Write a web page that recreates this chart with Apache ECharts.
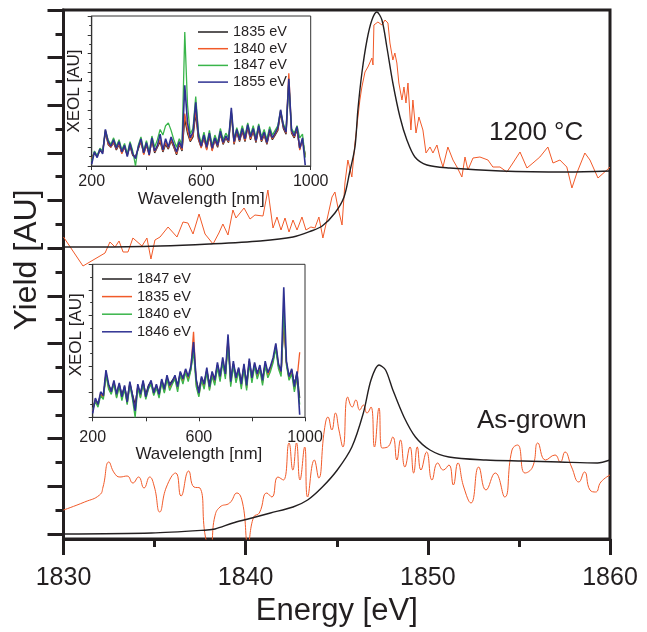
<!DOCTYPE html>
<html>
<head>
<meta charset="utf-8">
<title>Yield vs Energy</title>
<script src="https://cdn.jsdelivr.net/npm/echarts@6/dist/echarts.min.js"></script>
<style>
  html, body { margin: 0; padding: 0; background: #fff; }
  #chart { width: 647px; height: 632px; }
</style>
</head>
<body>
<div id="chart"></div>
<script>
const FONT = '"Liberation Sans", Arial, sans-serif';
const INK = '#231f20';
const ORANGE = '#f15a29';
const GREEN = '#39b54a';
const BLUE = '#2e3192';

// main panel: [energy eV, yield AU]
const hotFit = [[1830,287],[1832,287],[1835.3,288],[1838,290],[1840.8,293],[1842.6,297],[1843.6,303],[1844.2,308],[1844.9,321],[1845.4,337],[1845.7,361],[1846.0,387],[1846.16,424],[1846.38,461],[1846.66,494],[1846.93,514],[1847.2,522],[1847.48,514],[1847.75,487],[1848.08,451],[1848.47,417],[1848.85,394],[1849.29,377],[1849.95,369],[1851.2,366],[1854,363],[1857.6,362],[1860,363]];

const hotData = [[1830.0,297],[1831.07,268],[1832.28,281],[1832.55,292],[1832.83,287],[1833.05,293],[1833.27,282],[1833.54,282],[1833.81,296],[1834.31,288],[1834.58,296],[1834.80,275],[1835.02,294],[1835.30,297],[1835.74,307],[1836.23,297],[1836.56,312],[1836.83,311],[1837.11,300],[1837.44,320],[1837.77,300],[1838.21,290],[1838.53,301],[1838.75,310],[1839.03,299],[1839.30,324],[1839.47,316],[1839.91,326],[1840.24,315],[1840.51,319],[1840.95,318],[1841.22,344],[1841.50,306],[1841.72,317],[1841.94,304],[1842.16,316],[1842.38,302],[1842.60,314],[1842.82,304],[1843.09,317],[1843.31,304],[1843.58,307],[1843.80,306],[1844.02,317],[1844.24,296],[1844.46,314],[1844.74,337],[1844.90,342],[1845.07,326],[1845.29,309],[1845.45,351],[1845.61,374],[1845.83,357],[1846.00,391],[1846.27,434],[1846.38,447],[1846.55,462],[1846.71,467],[1846.93,476],[1846.99,469],[1847.04,509],[1847.26,512],[1847.48,509],[1847.65,514],[1847.81,511],[1847.92,491],[1848.08,474],[1848.19,481],[1848.30,471],[1848.41,451],[1848.58,434],[1848.69,447],[1848.80,431],[1848.91,451],[1849.07,404],[1849.18,434],[1849.35,401],[1849.51,417],[1849.73,404],[1849.90,381],[1850.12,387],[1850.28,381],[1850.50,389],[1850.66,377],[1850.83,367],[1851.10,387],[1851.38,374],[1851.60,367],[1851.87,357],[1852.04,377],[1852.20,364],[1852.48,376],[1852.86,377],[1853.30,374],[1853.57,367],[1853.96,367],[1854.34,362],[1854.67,371],[1855.06,382],[1855.44,366],[1855.77,371],[1856.15,377],[1856.59,387],[1856.87,371],[1857.25,374],[1857.63,367],[1857.91,346],[1858.18,361],[1858.62,381],[1858.90,374],[1859.34,356],[1859.83,364],[1860,367]];

const asFit = [[1830,0],[1834.83,1],[1837.88,4],[1838.32,5],[1839.30,11],[1840.13,15],[1841.36,21],[1842.6,27],[1843.40,34],[1844.21,47],[1845.03,64],[1845.83,87],[1846.46,121],[1846.88,154],[1847.32,169],[1847.68,164],[1848.08,144],[1848.69,117],[1849.32,97],[1850.12,84],[1851.16,77],[1853.19,74],[1855.22,73],[1857.25,72],[1859.31,71],[1860,74]];

const asData = [[1830.0,24],[1831.16,32],[1831.98,39],[1832.17,47],[1832.49,72],[1832.79,61],[1833.10,57],[1833.49,58],[1833.81,51],[1834.12,57],[1834.42,46],[1834.73,57],[1834.99,47],[1835.28,22],[1835.65,47],[1836.16,61],[1836.45,38],[1836.87,63],[1837.16,47],[1837.49,46],[1837.79,-3],[1838.06,-13],[1838.30,17],[1838.59,27],[1839.12,31],[1839.52,41],[1839.83,31],[1840.13,-9],[1840.44,17],[1840.75,21],[1841.16,41],[1841.44,37],[1841.77,57],[1842.07,54],[1842.38,91],[1842.59,64],[1842.79,91],[1842.98,54],[1843.24,87],[1843.40,37],[1843.77,74],[1844.01,56],[1844.32,104],[1844.52,117],[1844.73,104],[1844.93,121],[1845.12,104],[1845.34,87],[1845.60,137],[1845.85,127],[1846.05,134],[1846.26,124],[1846.46,129],[1846.66,121],[1846.88,127],[1847.07,87],[1847.32,126],[1847.48,86],[1847.79,87],[1848.08,97],[1848.30,74],[1848.50,94],[1848.74,67],[1849.02,87],[1849.22,61],[1849.42,87],[1849.62,64],[1849.93,82],[1850.23,54],[1850.54,71],[1850.85,64],[1851.16,69],[1851.40,49],[1851.65,71],[1851.97,47],[1852.37,31],[1852.79,67],[1853.19,44],[1853.70,61],[1854.22,37],[1854.62,84],[1854.93,89],[1855.33,61],[1855.75,67],[1856.04,91],[1856.46,74],[1856.98,79],[1857.27,72],[1857.53,82],[1857.89,67],[1858.29,52],[1858.60,62],[1858.90,44],[1859.21,42],[1859.50,52],[1860,59]];

// y ticks of the main panel (no labels)
const yMajorTicks = [0, 47.6, 95.3, 142.9, 190.6, 238.2, 285.8, 333.5, 381.1, 428.8, 476.4, 524];
const yMinorTicks = [23.8, 71.5, 119.1, 166.7, 214.4, 262, 309.7, 357.3, 404.9, 452.6, 500.2];

// inset spectra, XEOL vs wavelength [nm]
const wavelengths = [
  200,210,220,230,240,250,260,270,280,290,
  300,310,320,330,340,350,360,370,380,390,
  400,410,420,430,440,450,460,470,480,490,
  500,510,520,530,540,550,560,570,580,590,
  600,610,620,630,640,650,660,670,680,690,
  700,710,720,730,740,750,760,770,780,790,
  800,810,820,830,840,850,860,870,880,890,
  900,910,920,930,940,950,960,970,980];

// 1200 °C inset
const hotNames = ['1835 eV', '1840 eV', '1847 eV', '1855 eV'];
const hot1835 = [
  1.0,1.3,1.1,1.6,1.5,3.6,2.3,2.0,2.5,1.7,
  2.3,1.4,2.0,1.2,2.1,1.1,1.0,1.8,2.6,1.3,
  2.2,1.3,2.7,1.4,2.0,2.6,1.5,2.3,1.8,2.7,
  2.0,1.2,2.3,1.6,5.0,3.5,2.6,3.1,5.6,2.8,
  2.0,3.0,1.8,3.2,1.7,2.8,2.0,3.4,2.3,3.0,
  2.5,5.6,2.3,3.6,2.6,3.7,2.6,4.1,2.8,3.7,
  2.5,4.0,2.6,3.3,2.3,3.6,2.8,3.3,3.8,5.7,
  4.0,3.4,9.0,3.5,3.0,3.9,1.8,2.8,1.2];
const hot1840 = [
  0.8,1.4,1.0,1.7,1.4,3.8,2.4,2.0,2.6,1.8,
  2.4,1.3,2.1,1.1,2.3,1.2,0.9,1.9,2.7,1.2,
  2.3,1.1,2.8,1.5,2.1,2.8,1.6,2.5,1.9,2.8,
  2.1,1.3,2.4,1.7,5.6,3.8,2.7,3.3,6.0,2.9,
  1.9,3.1,1.7,3.3,1.6,2.9,2.1,3.5,2.4,3.1,
  2.6,5.8,2.4,3.7,2.7,3.8,2.7,4.2,2.9,3.8,
  2.6,4.1,2.7,3.4,2.4,3.7,2.9,3.4,3.9,5.9,
  4.2,3.5,9.9,3.6,3.1,4.0,1.7,2.9,1.0];
const hot1847 = [
  0.5,1.6,1.1,1.9,1.6,3.8,2.8,2.3,3.0,2.1,
  2.8,1.7,2.4,1.3,2.6,1.6,0.0,2.2,3.1,1.6,
  2.7,1.5,3.2,2.0,2.8,3.9,3.3,4.3,4.6,3.8,
  2.8,2.0,2.9,2.3,14.3,6.5,3.4,4.0,7.4,3.6,
  2.4,3.6,2.3,3.8,2.2,3.3,2.5,4.0,2.8,3.5,
  3.0,5.8,2.9,4.1,3.1,4.3,3.2,4.6,3.3,4.3,
  3.0,4.5,3.1,3.9,2.8,4.2,3.3,3.8,4.3,5.9,
  4.5,3.8,9.0,4.0,3.5,4.3,3.0,3.4,0.9];
const hot1855 = [
  0.2,1.5,0.9,1.8,1.3,3.9,2.6,2.1,2.8,1.9,
  2.6,1.5,2.2,1.0,2.4,1.3,0.8,2.0,2.9,1.4,
  2.5,1.2,3.0,1.6,2.2,3.4,1.7,2.9,2.0,3.1,
  2.3,1.5,2.6,1.9,8.6,4.6,3.0,3.6,6.8,3.2,
  2.1,3.3,2.0,3.5,1.9,3.0,2.2,3.7,2.5,3.2,
  2.7,6.2,2.6,3.9,2.8,4.0,2.9,4.4,3.1,4.0,
  2.7,4.3,2.8,3.6,2.5,3.9,3.0,3.5,4.1,6.0,
  4.3,3.6,9.3,3.8,3.2,4.2,1.9,3.0,0.1];

// as-grown inset (no-break space keeps legend names apart from the first inset)
const asNames = ['1847\u00a0eV', '1835\u00a0eV', '1840\u00a0eV', '1846\u00a0eV'];
const as1847 = [
  0.8,1.3,1.1,1.8,1.6,3.4,2.5,2.1,2.7,1.9,
  2.6,1.8,2.4,1.4,2.7,1.8,1.0,2.4,1.9,2.8,
  1.8,2.5,2.8,2.0,2.5,1.9,2.9,2.3,3.1,2.6,
  2.9,3.2,2.5,3.5,3.1,3.6,3.0,3.8,5.4,2.9,
  2.1,3.1,2.7,3.7,2.6,3.5,3.0,4.1,3.3,4.4,
  3.3,6.0,2.9,4.2,3.2,3.8,2.8,4.0,2.7,4.4,
  3.2,4.1,3.5,3.9,3.0,4.2,3.4,3.9,4.5,5.5,
  4.0,3.5,7.5,4.3,3.1,3.7,2.6,3.5,1.5];
const as1835 = [
  0.5,1.4,0.9,1.9,1.5,3.5,2.3,1.9,2.8,1.6,
  2.5,1.5,2.3,1.1,2.6,1.6,0.6,2.5,1.6,2.7,
  1.5,2.3,2.7,1.8,2.4,1.7,2.8,2.0,3.1,2.3,
  2.7,3.1,2.2,3.4,2.8,3.7,3.0,3.9,6.7,2.6,
  1.7,3.0,2.4,3.7,2.2,3.4,2.7,4.1,3.0,4.5,
  3.2,6.3,2.6,4.2,2.9,3.8,2.4,4.0,2.3,4.4,
  2.9,4.2,3.2,3.9,2.7,4.2,3.3,3.8,4.5,5.7,
  4.1,3.4,7.8,4.2,3.0,3.6,2.2,3.0,5.1];
const as1840 = [
  0.6,1.2,0.8,1.7,1.4,3.3,2.2,1.8,2.6,1.5,
  2.4,1.3,2.2,1.0,2.5,1.4,0.0,2.3,1.5,2.6,
  1.4,2.2,2.6,1.7,2.3,1.5,2.7,1.9,3.0,2.1,
  2.6,3.0,2.0,3.3,2.6,3.5,2.8,3.7,5.2,2.4,
  1.6,2.9,2.2,3.5,2.1,3.2,2.5,3.9,2.8,4.3,
  3.0,5.8,2.4,4.0,2.7,3.6,2.2,3.8,2.1,4.2,
  2.7,4.0,3.0,3.7,2.5,4.0,3.1,3.6,4.3,5.4,
  3.8,3.2,8.3,4.1,2.9,3.4,2.0,3.2,1.0];
const as1846 = [
  0.3,1.5,1.0,2.0,1.7,3.7,2.6,2.0,2.9,1.8,
  2.7,1.6,2.5,1.2,2.8,1.7,0.5,2.6,1.8,2.9,
  1.6,2.4,2.9,1.9,2.6,1.8,3.0,2.2,3.3,2.5,
  2.8,3.3,2.4,3.6,3.0,3.8,3.2,4.0,5.9,3.0,
  1.9,3.2,2.6,3.9,2.4,3.6,2.9,4.3,3.2,4.7,
  3.4,6.5,2.8,4.4,3.1,3.9,2.6,4.2,2.5,4.6,
  3.1,4.3,3.4,4.1,2.9,4.4,3.5,4.0,4.7,5.8,
  4.2,3.6,10.2,4.4,3.2,3.8,2.4,3.6,0.2];

const chart = echarts.init(document.getElementById('chart'), null, { renderer: 'canvas' });

function mainLine(name, data, color, width, smooth) {
  return {
    name, type: 'line', data, xAxisIndex: 0, yAxisIndex: 0,
    symbol: 'none', smooth, clip: true,
    lineStyle: { color, width },
    itemStyle: { color },
  };
}

function spectrum(name, values, color, axis, yAxis, width) {
  return {
    name, type: 'line', xAxisIndex: axis, yAxisIndex: yAxis,
    data: wavelengths.map((w, i) => [w, values[i]]),
    symbol: 'none', clip: true,
    lineStyle: { color, width: width || 1.3 },
    itemStyle: { color },
  };
}

// plain numbers, no thousands separator
const plain = (v) => String(v);

function insetX(grid, nameGap, margin) {
  return {
    type: 'value', gridIndex: grid, min: 200, max: 1000, interval: 400,
    name: 'Wavelength [nm]', nameLocation: 'middle', nameGap,
    nameTextStyle: { fontFamily: FONT, fontSize: 17, color: INK },
    axisLine: { onZero: false, lineStyle: { color: '#333', width: 1.2 } },
    axisTick: { show: true, length: 4, lineStyle: { color: '#333', width: 1 } },
    minorTick: { show: true, splitNumber: 2, length: 4, lineStyle: { color: '#333', width: 1 } },
    axisLabel: { margin, fontFamily: FONT, fontSize: 16, color: INK, formatter: plain },
    splitLine: { show: false },
  };
}

function insetY(grid, max, nameGap, shift) {
  return {
    type: 'value', gridIndex: grid, min: 0, max, interval: 2,
    name: 'XEOL [AU]', nameLocation: 'middle', nameGap,
    nameTextStyle: { fontFamily: FONT, fontSize: 17, color: INK, padding: [0, 0, 0, shift] },
    axisLine: { show: true, onZero: false, lineStyle: { color: '#333', width: 1.2 } },
    axisTick: { show: true, length: 4, lineStyle: { color: '#333', width: 1 } },
    minorTick: { show: true, splitNumber: 2, length: 2.5, lineStyle: { color: '#333', width: 1 } },
    axisLabel: { show: false },
    splitLine: { show: false },
  };
}

function insetLegend(names, left, top, gap) {
  return {
    data: names, left, top, orient: 'vertical', padding: 0,
    icon: 'rect', itemWidth: 30, itemHeight: 1.5, itemGap: gap,
    selectedMode: false,
    textStyle: { fontFamily: FONT, fontSize: 14.5, color: INK, lineHeight: 15 },
  };
}

const option = {
  animation: false,
  backgroundColor: '#fff',
  grid: [
    { left: 63.5, right: 37, top: 10, bottom: 93, show: true, borderWidth: 3, borderColor: INK },
    { left: 91.7, top: 16, width: 219, height: 150, show: true, borderWidth: 1, borderColor: '#333' },
    { left: 92.7, top: 264.3, width: 212.3, height: 153, show: true, borderWidth: 1, borderColor: '#333' },
  ],
  xAxis: [
    {
      type: 'value', gridIndex: 0, min: 1830, max: 1860, interval: 10,
      name: 'Energy [eV]', nameLocation: 'middle', nameGap: 56,
      nameTextStyle: { fontFamily: FONT, fontSize: 31, color: INK },
      axisLine: { onZero: false, lineStyle: { color: INK, width: 3 } },
      axisTick: { show: true, length: 16, lineStyle: { color: INK, width: 3 } },
      minorTick: { show: true, splitNumber: 2, length: 8, lineStyle: { color: INK, width: 3 } },
      axisLabel: { margin: 27, fontFamily: FONT, fontSize: 25, color: INK, formatter: plain },
      splitLine: { show: false },
    },
    insetX(1, 22, 8),
    insetX(2, 25, 12),
  ],
  yAxis: [
    {
      type: 'value', gridIndex: 0, min: -5, max: 524, position: 'left',
      name: 'Yield [AU]', nameLocation: 'middle', nameGap: 20,
      nameTextStyle: { fontFamily: FONT, fontSize: 32, color: INK, padding: [0, 0, 0, 29] },
      axisLine: { show: true, onZero: false, lineStyle: { color: INK, width: 3 } },
      axisTick: { show: true, length: 16, customValues: yMajorTicks, lineStyle: { color: INK, width: 3 } },
      axisLabel: { show: false },
      splitLine: { show: false },
    },
    {
      type: 'value', gridIndex: 0, min: -5, max: 524, position: 'left',
      axisLine: { show: false },
      axisTick: { show: true, length: 8, customValues: yMinorTicks, lineStyle: { color: INK, width: 3 } },
      axisLabel: { show: false },
      splitLine: { show: false },
    },
    insetY(1, 16, 9, 0),
    insetY(2, 12, 8, 12),
  ],
  legend: [
    insetLegend(hotNames, 198, 24.5, 1.7),
    insetLegend(asNames, 102, 271.5, 2.6),
  ],
  graphic: [
    { type: 'text', left: 489, top: 120, style: { text: '1200 °C', font: '26px ' + FONT, fill: INK } },
    { type: 'text', left: 477, top: 408, style: { text: 'As-grown', font: '26px ' + FONT, fill: INK } },
  ],
  series: [
    mainLine('1200 °C data', hotData, ORANGE, 1, false),
    mainLine('1200 °C fit', hotFit, INK, 1.4, 0.3),
    mainLine('As-grown data', asData, ORANGE, 1, 0.5),
    mainLine('As-grown fit', asFit, INK, 1.4, 0.3),

    spectrum(hotNames[0], hot1835, INK, 1, 2),
    spectrum(hotNames[1], hot1840, ORANGE, 1, 2),
    spectrum(hotNames[2], hot1847, GREEN, 1, 2),
    spectrum(hotNames[3], hot1855, BLUE, 1, 2, 1.6),

    spectrum(asNames[0], as1847, INK, 2, 3),
    spectrum(asNames[1], as1835, ORANGE, 2, 3),
    spectrum(asNames[2], as1840, GREEN, 2, 3),
    spectrum(asNames[3], as1846, BLUE, 2, 3, 1.6),
  ],
};

chart.setOption(option);
</script>
</body>
</html>
